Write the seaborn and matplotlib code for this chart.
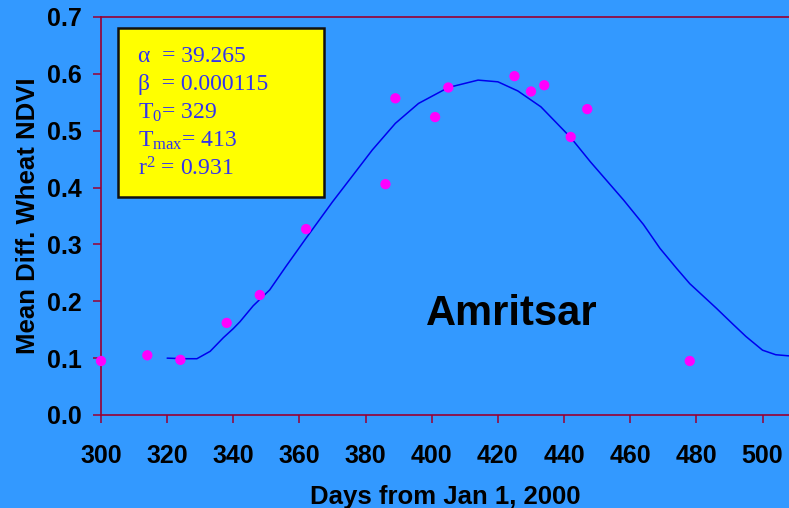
import matplotlib
matplotlib.use("Agg")
import matplotlib.pyplot as plt
import seaborn as sns
import pandas as pd
from matplotlib.patches import Rectangle

# Observed data points
obs_days = [300, 314, 324, 338, 348, 362, 386, 389, 401, 405, 425, 430, 434, 442, 447, 478]
obs_ndvi = [0.095, 0.105, 0.097, 0.162, 0.211, 0.327, 0.406, 0.557, 0.524, 0.576,
            0.596, 0.569, 0.580, 0.489, 0.538, 0.095]

# Fitted curve
fit_days = [320, 325, 329, 333, 337, 340, 342, 346, 351, 356, 362, 366, 370, 377, 382,
            389, 396, 405, 414, 420, 426, 433, 442, 448, 458, 464, 469, 474, 478, 486,
            491, 495, 500, 504, 508]
fit_ndvi = [0.100, 0.099, 0.099, 0.112, 0.136, 0.152, 0.164, 0.192, 0.220, 0.262, 0.311,
            0.343, 0.375, 0.428, 0.466, 0.513, 0.548, 0.576, 0.589, 0.586, 0.570, 0.542,
            0.488, 0.445, 0.378, 0.335, 0.293, 0.258, 0.231, 0.188, 0.160, 0.138, 0.114,
            0.106, 0.104]

x_ticks = [300, 320, 340, 360, 380, 400, 420, 440, 460, 480, 500]
y_ticks = [0.0, 0.1, 0.2, 0.3, 0.4, 0.5, 0.6, 0.7]

params = ["α  = 39.265", "β  = 0.000115", r"T$_0$= 329",
          r"T$_{\mathrm{max}}$= 413", r"r$^2$ = 0.931"]
site = "Amritsar"

sns.set_theme(style="ticks")
plt.rcParams['font.family'] = ['Liberation Sans', 'DejaVu Sans']
plt.rcParams['mathtext.fontset'] = 'custom'
plt.rcParams['mathtext.rm'] = 'Liberation Serif'
plt.rcParams['mathtext.it'] = 'Liberation Serif:italic'
plt.rcParams['text.color'] = 'black'
plt.rcParams['axes.labelcolor'] = 'black'

BG = '#3399FF'
SPINE = '#990033'

fig = plt.figure(figsize=(7.89, 5.08), dpi=100, facecolor=BG)
ax = fig.add_axes([101 / 789, (508 - 415) / 508, 1 - 101 / 789, (415 - 17) / 508])
ax.set_facecolor(BG)

df_fit = pd.DataFrame({"day": fit_days, "ndvi": fit_ndvi})
df_obs = pd.DataFrame({"day": obs_days, "ndvi": obs_ndvi})
sns.lineplot(data=df_fit, x="day", y="ndvi", ax=ax, color='#0000EE', linewidth=1.1)
sns.scatterplot(data=df_obs, x="day", y="ndvi", ax=ax, color='#FF00FF', s=55,
                edgecolor='none', clip_on=False, zorder=5)

ax.set_xlim(300, 508)
ax.set_ylim(0, 0.7)
ax.set_xticks(x_ticks)
ax.set_yticks(y_ticks)
ax.set_xticklabels([str(t) for t in x_ticks])
ax.set_yticklabels([f"{t:.1f}" for t in y_ticks])

for side in ['left', 'bottom', 'top']:
    ax.spines[side].set_color(SPINE)
    ax.spines[side].set_linewidth(1.2)
ax.spines['right'].set_visible(False)
ax.tick_params(axis='both', direction='out', length=6, width=1.1, color=SPINE,
               labelsize=18, labelcolor='black')
ax.tick_params(axis='x', pad=15)
ax.tick_params(axis='y', pad=8)
for lab in ax.get_xticklabels() + ax.get_yticklabels():
    lab.set_fontweight('bold')

ax.set_xlabel("Days from Jan 1, 2000", fontsize=18.5, fontweight='bold', labelpad=12,
              color='black')
ax.set_ylabel("Mean Diff. Wheat NDVI", fontsize=18.5, fontweight='bold', labelpad=5,
              color='black')

ax.text(398.3, 0.158, site, fontsize=30, fontweight='bold', color='black',
        ha='left', va='baseline')

# Parameter box (in figure pixel fractions)
box = Rectangle((118 / 789, (508 - 197) / 508), (324 - 118) / 789, (197 - 28) / 508,
                transform=fig.transFigure, facecolor='#FFFF00', edgecolor='#111111',
                linewidth=1.8, zorder=6)
fig.add_artist(box)
baselines = [61.7, 90, 118.3, 146.7, 175]
for txt, yb in zip(params, baselines):
    fig.text(138 / 789, (508 - yb) / 508, txt, fontsize=17, color='#3333EE',
             family='Liberation Serif', ha='left', va='baseline', zorder=7)

fig.savefig("out.png", dpi=100, facecolor=BG)
